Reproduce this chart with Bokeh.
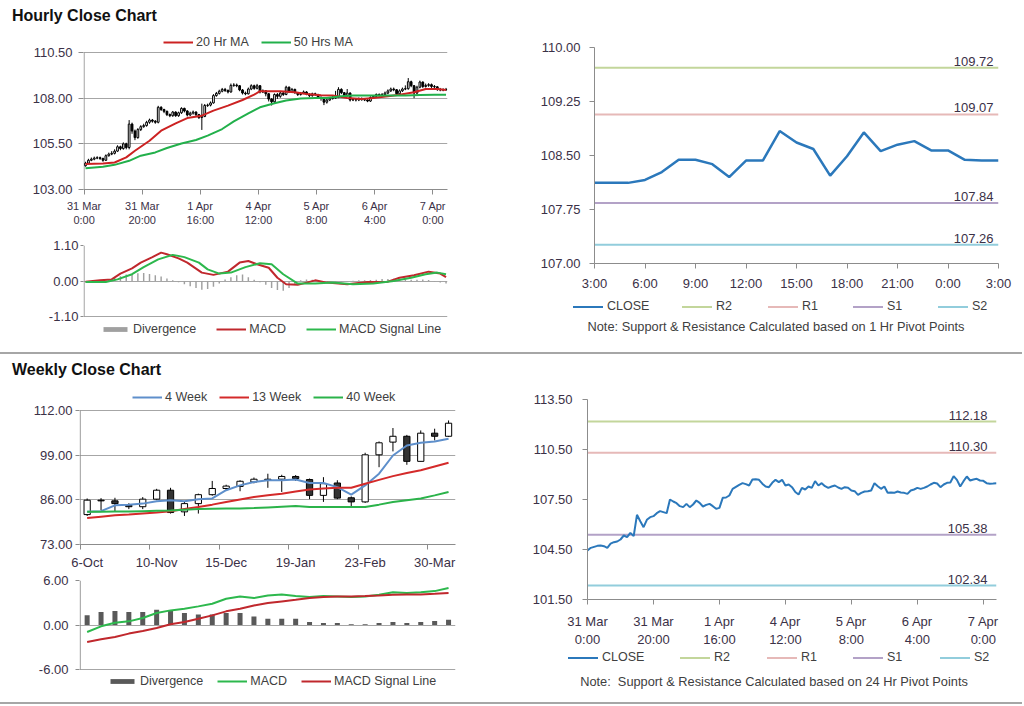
from bokeh.plotting import figure
from bokeh.models import (Range1d, FixedTicker, NumeralTickFormatter, Legend, LegendItem,
                          Div, ColumnDataSource)
from bokeh.layouts import column, row
from bokeh.embed import file_html
from bokeh.resources import INLINE
from bokeh.core.properties import value

FONT = "Liberation Sans"
TICK_TXT = "#3b3147"
LEG_TXT = "#404040"
AX = "#8c8c8c"
CLOSE_COLOR = "#2b78bb"

# ------------------------------------------------------------------ data
hourly_first_open = 104.30
hourly_close = [
    104.44, 104.60, 104.66, 104.72, 104.74, 104.70, 104.60, 104.85, 104.94, 104.98,
    105.10, 105.34, 105.24, 105.50, 105.30, 106.58, 106.20, 105.84, 106.28, 106.44,
    106.50, 106.68, 106.80, 106.74, 106.68, 107.50, 107.38, 107.28, 107.10, 107.04,
    107.24, 107.04, 107.20, 107.44, 107.30, 107.08, 107.18, 107.24, 107.10, 106.94,
    107.00, 107.60, 107.62, 107.74, 108.14, 108.26, 108.38, 108.48, 108.42, 108.34,
    108.70, 108.72, 108.68, 108.45, 108.28, 108.24, 108.50, 108.68, 108.54, 108.68,
    108.34, 108.40, 108.24, 107.95, 107.80, 108.20, 108.10, 108.28, 108.20, 108.60,
    108.34, 108.48, 108.30, 108.20, 108.28, 108.34, 108.22, 108.14, 108.24, 108.20,
    108.04, 108.00, 107.78, 107.90, 107.98, 108.00, 108.04, 108.48, 108.30, 108.14,
    108.28, 107.90, 107.92, 107.90, 107.98, 107.92, 107.90, 107.84, 108.04, 108.10,
    108.20, 108.14, 108.20, 108.28, 108.40, 108.50, 108.46, 108.24, 108.40, 108.50,
    108.52, 108.90, 108.68, 108.28, 108.60, 108.88, 108.64, 108.70, 108.74, 108.64,
    108.62, 108.48, 108.45, 108.46, 108.48]
hourly_high = [
    104.52, 104.68, 104.75, 104.80, 104.82, 104.80, 104.74, 104.92, 105.02, 105.10,
    105.20, 105.42, 105.40, 105.58, 105.56, 106.80, 106.66, 106.28, 106.36, 106.52,
    106.60, 106.76, 106.88, 106.86, 106.80, 107.58, 107.56, 107.42, 107.32, 107.16,
    107.30, 107.28, 107.26, 107.50, 107.48, 107.34, 107.26, 107.32, 107.28, 107.14,
    107.70, 107.68, 107.70, 107.82, 108.22, 108.34, 108.46, 108.56, 108.56, 108.48,
    108.80, 108.82, 108.80, 108.72, 108.50, 108.36, 108.58, 108.76, 108.74, 108.78,
    108.72, 108.48, 108.44, 108.28, 108.00, 108.26, 108.28, 108.36, 108.34, 108.68,
    108.64, 108.56, 108.52, 108.34, 108.34, 108.42, 108.38, 108.26, 108.30, 108.30,
    108.24, 108.10, 108.04, 107.98, 108.06, 108.12, 108.40, 108.60, 108.54, 108.34,
    108.50, 108.32, 108.00, 107.98, 108.04, 108.04, 107.98, 107.94, 108.10, 108.16,
    108.26, 108.26, 108.28, 108.36, 108.48, 108.58, 108.58, 108.50, 108.48, 108.58,
    108.70, 109.10, 108.96, 108.72, 108.68, 108.96, 108.92, 108.80, 108.82, 108.80,
    108.72, 108.66, 108.56, 108.54, 108.56]
hourly_low = [
    104.25, 104.40, 104.55, 104.60, 104.66, 104.62, 104.52, 104.56, 104.80, 104.88,
    104.92, 105.05, 105.15, 105.18, 105.20, 105.20, 106.05, 105.70, 105.78, 106.20,
    106.38, 106.44, 106.60, 106.66, 106.60, 106.62, 107.30, 107.18, 107.02, 106.96,
    106.98, 106.98, 106.98, 107.14, 107.22, 107.00, 107.02, 107.10, 107.02, 106.86,
    106.26, 106.96, 107.52, 107.55, 107.70, 108.08, 108.20, 108.32, 108.34, 108.26,
    108.30, 108.62, 108.60, 108.38, 108.20, 108.16, 108.20, 108.44, 108.46, 108.48,
    108.26, 108.28, 108.10, 107.82, 107.60, 107.74, 107.96, 108.02, 108.12, 108.16,
    108.28, 108.28, 108.24, 108.12, 108.14, 108.22, 108.16, 108.06, 108.08, 108.12,
    107.96, 107.86, 107.62, 107.70, 107.84, 107.92, 107.96, 108.00, 108.22, 108.06,
    108.08, 107.82, 107.84, 107.82, 107.84, 107.86, 107.84, 107.78, 107.80, 107.98,
    108.04, 108.08, 108.08, 108.14, 108.22, 108.34, 108.38, 108.16, 108.18, 108.34,
    108.44, 108.46, 108.60, 108.00, 108.22, 108.54, 108.56, 108.58, 108.62, 108.56,
    108.54, 108.40, 108.38, 108.38, 108.40]
hourly_ticks = [0, 20, 40, 60, 80, 100, 120]
hourly_tick_labels = ["31 Mar\n0:00", "31 Mar\n20:00", "1 Apr\n16:00", "4 Apr\n12:00",
                      "5 Apr\n8:00", "6 Apr\n4:00", "7 Apr\n0:00"]

ma20_hours = [0, 6, 10, 14, 17, 22, 26, 31, 35, 40, 44, 49, 54, 58, 60, 63, 67, 72, 76,
              81, 85, 90, 95, 99, 104, 108, 113, 117, 121, 124]
ma20_vals = [104.39, 104.43, 104.48, 104.76, 105.12, 105.67, 106.22, 106.62, 106.91, 107.04,
             107.32, 107.59, 107.90, 108.19, 108.38, 108.38, 108.38, 108.32, 108.23, 108.16,
             108.14, 108.01, 107.96, 108.01, 108.10, 108.19, 108.32, 108.50, 108.50, 108.45]
ma50_hours = [0, 6, 10, 15, 19, 24, 28, 33, 38, 42, 47, 51, 56, 60, 65, 69, 74, 79, 83, 88,
              92, 97, 101, 106, 110, 115, 120, 124]
ma50_vals = [104.17, 104.24, 104.35, 104.57, 104.85, 105.03, 105.27, 105.52, 105.71, 105.95,
             106.31, 106.73, 107.17, 107.50, 107.72, 107.87, 107.98, 108.01, 108.01, 108.10,
             108.14, 108.14, 108.14, 108.14, 108.14, 108.18, 108.19, 108.19]

macd_hours = [0, 5, 9, 12, 16, 19, 23, 26, 28, 32, 35, 40, 44, 49, 53, 56, 59, 63, 66, 69,
              73, 79, 83, 90, 97, 104, 108, 113, 118, 122, 124]
macd_vals = [-0.02, 0.02, 0.05, 0.23, 0.39, 0.57, 0.74, 0.88, 0.83, 0.70, 0.57, 0.26, 0.19,
             0.29, 0.57, 0.62, 0.52, 0.41, 0.10, -0.10, -0.12, 0.02, -0.05, -0.10, -0.03,
             -0.02, 0.10, 0.18, 0.29, 0.23, 0.12]
signal_hours = [0, 7, 11, 16, 20, 25, 30, 34, 39, 42, 46, 50, 55, 60, 64, 68, 73, 79, 85,
                92, 99, 106, 112, 117, 121, 124]
signal_vals = [-0.03, -0.03, 0.05, 0.21, 0.43, 0.67, 0.81, 0.74, 0.57, 0.36, 0.23, 0.26,
               0.43, 0.55, 0.52, 0.21, -0.08, -0.08, -0.05, -0.10, -0.08, 0.00, 0.10, 0.21,
               0.26, 0.21]
div_hours = list(range(0, 125, 2))
div_vals = [0.00, 0.00, 0.01, 0.03, 0.06, 0.10, 0.15, 0.20, 0.22, 0.24,
            0.25, 0.22, 0.18, 0.14, 0.08, 0.02, -0.04, -0.10, -0.16, -0.22,
            -0.27, -0.25, -0.18, -0.08, 0.05, 0.12, 0.18, 0.20, 0.12, 0.04,
            -0.04, -0.12, -0.22, -0.28, -0.30, -0.22, -0.10, 0.02, 0.05, 0.04,
            0.02, 0.00, -0.02, -0.03, -0.02, -0.01, 0.01, 0.02, 0.02, 0.03,
            0.04, 0.06, 0.06, 0.07, 0.06, 0.05, 0.04, 0.04, 0.05, 0.03,
            -0.02, -0.05, -0.08]

pivot1_labels = ["3:00", "6:00", "9:00", "12:00", "15:00", "18:00", "21:00", "0:00", "3:00"]
pivot1_close = [108.12, 108.12, 108.12, 108.16, 108.27, 108.44, 108.44, 108.38, 108.20,
                108.43, 108.43, 108.84, 108.68, 108.59, 108.22, 108.49, 108.82, 108.56,
                108.65, 108.70, 108.57, 108.57, 108.44, 108.43, 108.43]
pivot1_levels = {"R2": 109.72, "R1": 109.07, "S1": 107.84, "S2": 107.26}
pivot24_levels = {"R2": 112.18, "R1": 110.30, "S1": 105.38, "S2": 102.34}
level_colors = {"R2": "#c3d69b", "R1": "#e6b9b8", "S1": "#b3a2c7", "S2": "#92cddc"}
LEVELS = ("R2", "R1", "S1", "S2")

week_labels = ["6-Oct", "10-Nov", "15-Dec", "19-Jan", "23-Feb", "30-Mar"]
week_label_idx = [0, 5, 10, 15, 20, 25]
weekly_open = [81.7, 85.9, 85.7, 84.4, 84.0, 86.2, 88.8, 82.5, 84.9, 87.5, 89.3, 89.9, 91.2,
               92.0, 92.0, 92.8, 91.9, 87.3, 90.9, 86.6, 85.4, 99.1, 102.8, 104.5, 97.2,
               105.4, 104.5]
weekly_close = [85.9, 85.7, 84.9, 84.0, 86.2, 88.8, 82.3, 84.9, 87.5, 89.3, 90.0, 91.4, 92.0,
                91.7, 92.8, 92.2, 87.3, 90.7, 86.5, 85.4, 99.1, 102.6, 104.5, 97.2, 105.4,
                104.5, 108.3]
weekly_high = [86.4, 86.5, 86.6, 85.0, 86.8, 89.2, 89.5, 85.4, 87.8, 91.5, 90.4, 91.7, 92.5,
               93.6, 93.3, 93.2, 92.2, 92.6, 91.7, 87.0, 99.7, 103.0, 106.9, 104.9, 106.2,
               106.7, 109.1]
weekly_low = [81.3, 83.0, 82.5, 83.3, 83.3, 85.9, 82.0, 81.3, 82.0, 87.2, 88.8, 88.5, 90.8,
              89.5, 88.3, 91.5, 86.2, 85.4, 86.2, 84.2, 85.1, 95.5, 100.1, 96.2, 97.2,
              103.3, 104.3]
ma4w = [82.5, 82.7, 84.4, 84.6, 84.9, 85.6, 85.9, 85.6, 86.2, 86.4, 88.8, 90.2, 91.2, 91.7,
        91.7, 91.9, 90.9, 90.9, 89.7, 87.5, 90.2, 93.6, 98.9, 101.8, 102.6, 103.0, 103.8]
ma13w = [80.7, 81.1, 81.5, 81.7, 82.0, 82.3, 82.7, 83.3, 83.9, 84.6, 85.4, 86.1, 86.8, 87.3,
         87.8, 88.4, 89.0, 89.3, 89.5, 89.5, 90.7, 91.8, 92.9, 93.8, 94.6, 95.7, 96.8]
ma40w = [82.5, 82.5, 82.6, 82.6, 82.7, 82.8, 82.9, 83.1, 83.3, 83.4, 83.5, 83.5, 83.6, 83.8,
         84.0, 84.2, 83.9, 83.9, 83.9, 83.9, 83.9, 84.6, 85.4, 85.9, 86.4, 87.3, 88.3]
w_macd = [-0.94, -0.18, 0.31, 0.49, 0.94, 1.61, 1.97, 2.19, 2.51, 2.87, 3.54, 3.85, 3.63,
          3.98, 4.12, 3.90, 3.76, 3.90, 3.85, 3.76, 3.85, 4.07, 4.43, 4.30, 4.43, 4.57, 5.00]
w_signal = [-2.28, -1.93, -1.61, -1.16, -0.81, -0.40, 0.09, 0.40, 0.85, 1.30, 1.84, 2.19,
            2.64, 2.96, 3.18, 3.40, 3.63, 3.76, 3.85, 3.85, 3.90, 3.98, 4.07, 4.12, 4.12,
            4.20, 4.30]
w_div = [1.30, 1.75, 1.88, 1.75, 1.75, 2.06, 1.97, 1.61, 1.43, 1.43, 1.61, 1.61, 1.16, 0.85,
         0.85, 0.85, 0.40, 0.27, 0.27, 0.09, 0.09, 0.27, 0.40, 0.27, 0.40, 0.54, 0.72]

assert len(hourly_close) == len(hourly_high) == len(hourly_low) == 125
assert len(div_vals) == len(div_hours)


# ------------------------------------------------------------------ helpers
def mkfig(fw, fh, bl, br, bt, bb, xr, yr, yticks, grid=True, xaxis=True, own_yline=False):
    p = figure(width=bl + fw + br, height=bt + fh + bb, min_border_left=bl,
               min_border_right=br, min_border_top=bt, min_border_bottom=bb,
               x_range=Range1d(*xr), y_range=Range1d(*yr), output_backend="svg",
               toolbar_location=None, title=None, sizing_mode="fixed",
               x_axis_location=("below" if xaxis else None))
    p.outline_line_color = None
    for ax in p.axis:
        ax.axis_line_color = AX
        ax.major_tick_line_color = AX
        ax.minor_tick_line_color = None
        ax.major_tick_in = 0
        ax.major_tick_out = 5
        ax.major_label_text_font = FONT
        ax.major_label_text_font_size = "13px"
        ax.major_label_text_color = TICK_TXT
    p.yaxis.ticker = FixedTicker(ticks=yticks)
    p.yaxis.formatter = NumeralTickFormatter(format="0.00")
    p.xgrid.visible = False
    if grid:
        p.ygrid.grid_line_color = "#a6a6a6"
    else:
        p.ygrid.visible = False
    if own_yline:
        # the frame is taller than the value scale (room for the legend), so the
        # vertical axis line is drawn only over the scale itself
        p.yaxis.axis_line_color = None
        p.segment(x0=[0], y0=[yticks[0]], x1=[0], y1=[yticks[-1]], line_color=AX,
                  line_width=1)
    return p


def make_legend(pairs, x, y, spacing, label_width=20, glyph_height=14):
    items = [LegendItem(label=l, renderers=[r]) for l, r in pairs]
    return Legend(items=items, location=(x, y), orientation="horizontal",
                  background_fill_alpha=0, border_line_alpha=0, padding=0, margin=0,
                  spacing=spacing, glyph_width=30, glyph_height=glyph_height,
                  label_standoff=3, label_width=label_width, label_height=14,
                  label_text_font=FONT, label_text_font_size="12.5px",
                  label_text_color=LEG_TXT)


def candles(p, xs, o, h, l, c, width, up_fill, down_fill):
    p.segment(x0=xs, y0=l, x1=xs, y1=h, line_color="black", line_width=1)
    up = [i for i in range(len(c)) if c[i] >= o[i]]
    dn = [i for i in range(len(c)) if c[i] < o[i]]
    for idx, fill in ((up, up_fill), (dn, down_fill)):
        src = ColumnDataSource(dict(x=[xs[i] for i in idx],
                                    top=[max(o[i], c[i]) for i in idx],
                                    bottom=[min(o[i], c[i]) for i in idx]))
        p.vbar(x="x", top="top", bottom="bottom", width=width, source=src,
               fill_color=fill, line_color="black", line_width=1)


def title_div(text, pad_top, w, h):
    return Div(width=w, height=h, margin=0, text=(
        f"<div style='font-family:{FONT};font-size:16px;font-weight:bold;line-height:16px;"
        f"color:#111111;padding:{pad_top}px 0 0 12px;white-space:nowrap'>{text}</div>"))


def note_div(text, pad_top, pad_left, w, h):
    return Div(width=w, height=h, margin=0, text=(
        f"<div style='display:block;box-sizing:border-box;width:{w}px;font-family:{FONT};"
        f"font-size:12.8px;line-height:16px;color:#404040;text-align:center;"
        f"padding:{pad_top}px 0 0 {pad_left}px;white-space:nowrap'>{text}</div>"))


def legend_div(w, h, top, entries):
    # entries: (left px, label, colour, line width)
    parts = []
    for left, label, color, lw in entries:
        parts.append(
            f"<div style='position:absolute;left:{left}px;top:{top}px;height:14px;"
            f"display:flex;align-items:center;white-space:nowrap;font-family:{FONT};"
            f"font-size:12.5px;color:{LEG_TXT}'>"
            f"<span style='display:inline-block;width:30px;height:0;"
            f"border-top:{lw}px solid {color};margin-right:4px'></span>{label}</div>")
    return Div(width=w, height=h, margin=0, text=(
        f"<div style='position:relative;width:{w}px;height:{h}px'>" + "".join(parts) + "</div>"))


def pivot_chart(fw, fh, bl, br, bt, bb, xr, yr, yticks, xs, close, levels, lw, xticks,
                xlabels, standoff_x, standoff_y, label_dx):
    p = mkfig(fw, fh, bl, br, bt, bb, xr, yr, yticks, grid=False)
    p.yaxis.major_label_standoff = standoff_y
    p.xaxis.ticker = FixedTicker(ticks=xticks)
    p.xaxis.major_label_overrides = dict(zip(xticks, xlabels))
    p.xaxis.major_label_standoff = standoff_x
    for k in LEVELS:
        p.line(x=[xr[0], xr[1]], y=[levels[k], levels[k]], line_color=level_colors[k],
               line_width=2)
    p.line(x=xs, y=close, line_color=CLOSE_COLOR, line_width=lw)
    p.text(x=[xr[1]] * 4, y=[levels[k] for k in LEVELS],
           text=[f"{levels[k]:.2f}" for k in LEVELS],
           text_align="right", text_baseline="bottom", x_offset=label_dx, y_offset=-2,
           text_font=value(FONT), text_font_size="13px", text_color=TICK_TXT)
    return p


# ------------------------------------------------------------------ hourly candles
# frame 30..189 px; value scale 103..110.5 occupies 52..189 px
hx = [i + 0.5 for i in range(len(hourly_close))]
hourly_open = [hourly_first_open] + hourly_close[:-1]
p_hc = mkfig(364, 159, 83, 65, 4, 46, (-0.2, 125), (103, 110.5 + 22 * 7.5 / 137),
             [103, 105.5, 108, 110.5], own_yline=True)
p_hc.yaxis.major_label_standoff = 6
p_hc.xaxis.ticker = FixedTicker(ticks=hourly_ticks)
p_hc.xaxis.major_label_overrides = dict(zip(hourly_ticks, hourly_tick_labels))
p_hc.xaxis.major_label_text_font_size = "11px"
p_hc.xaxis.major_label_standoff = 5
candles(p_hc, hx, hourly_open, hourly_high, hourly_low, hourly_close, 0.6, "white", "black")
r20 = p_hc.line(x=[h + 0.5 for h in ma20_hours], y=ma20_vals, line_color="#cc2222", line_width=2)
r50 = p_hc.line(x=[h + 0.5 for h in ma50_hours], y=ma50_vals, line_color="#22b04b", line_width=2)
p_hc.add_layout(make_legend([("20 Hr MA", r20), ("50 Hrs MA", r50)], 80, 140, 12))

# ------------------------------------------------------------------ hourly MACD
# frame 245..346 px; value scale -1.1..1.1 occupies 245..316 px
p_hm = mkfig(364, 101, 83, 65, 10, 6, (-0.2, 125), (-1.1 - 30 * 2.2 / 71, 1.1),
             [-1.1, 0, 1.1], xaxis=False, own_yline=True)
p_hm.yaxis.major_tick_out = 3
p_hm.yaxis.major_label_standoff = 2
rdiv = p_hm.vbar(x=[h + 0.5 for h in div_hours], top=div_vals, bottom=0, width=0.5,
                 fill_color="#a0a0a0", line_color=None)
rm = p_hm.line(x=[h + 0.5 for h in macd_hours], y=macd_vals, line_color="#c0282d", line_width=2)
rs = p_hm.line(x=[h + 0.5 for h in signal_hours], y=signal_vals, line_color="#2db84d", line_width=2)
p_hm.add_layout(make_legend([("Divergence", rdiv), ("MACD", rm), ("MACD Signal Line", rs)],
                            17, 10, 20, glyph_height=6))

# ------------------------------------------------------------------ 1 hr pivot
p_p1 = pivot_chart(404, 217, 82, 24, 47, 29, (0, 24), (107, 110),
                   [107, 107.75, 108.5, 109.25, 110], list(range(25)), pivot1_close,
                   pivot1_levels, 2.5, [0, 3, 6, 9, 12, 15, 18, 21, 24], pivot1_labels,
                   7, 9, -5)
l_p1 = legend_div(510, 26, 7, [(61, "CLOSE", CLOSE_COLOR, 2)] +
                  [(x, k, level_colors[k], 2) for x, k in zip([170, 256, 341, 426], LEVELS)])

# ------------------------------------------------------------------ weekly candles
# frame 388..544 px; value scale 73..112 occupies 410..544 px
wx = [i + 0.5 for i in range(len(weekly_close))]
p_wc = mkfig(376, 156, 79, 57, 4, 28, (-0.05, 27), (73, 112 + 22 * 39 / 134),
             [73, 86, 99, 112], own_yline=True)
p_wc.yaxis.major_tick_out = 4
p_wc.yaxis.major_label_standoff = 3
lab_pos = [i + 0.5 for i in week_label_idx]
p_wc.xaxis.ticker = FixedTicker(ticks=lab_pos, minor_ticks=week_label_idx)
p_wc.xaxis.major_label_overrides = dict(zip(lab_pos, week_labels))
p_wc.xaxis.major_tick_line_color = None
p_wc.xaxis.major_tick_out = 0
p_wc.xaxis.minor_tick_line_color = AX
p_wc.xaxis.minor_tick_out = 5
p_wc.xaxis.minor_tick_in = 0
p_wc.xaxis.major_label_standoff = 5
candles(p_wc, wx, weekly_open, weekly_high, weekly_low, weekly_close, 0.45, "white", "#333333")
r4 = p_wc.line(x=wx, y=ma4w, line_color="#5e8fcb", line_width=2)
r13 = p_wc.line(x=wx, y=ma13w, line_color="#d42a2a", line_width=2)
r40 = p_wc.line(x=wx, y=ma40w, line_color="#2bb34a", line_width=2)
p_wc.add_layout(make_legend([("4 Week", r4), ("13 Week", r13), ("40 Week", r40)], 53, 140, 12))

# ------------------------------------------------------------------ weekly MACD
# frame 580..690 px; value scale -6..6 occupies 580..669 px
p_wm = mkfig(376, 110, 79, 57, 8, 4, (-0.05, 27), (-6 - 21 * 12 / 89, 6), [-6, 0, 6],
             xaxis=False, own_yline=True)
p_wm.yaxis.major_tick_out = 4
p_wm.yaxis.major_label_standoff = 7
rwd = p_wm.vbar(x=wx, top=w_div, bottom=0, width=0.36, fill_color="#595959", line_color=None)
rwm = p_wm.line(x=wx, y=w_macd, line_color="#2db84d", line_width=2)
rws = p_wm.line(x=wx, y=w_signal, line_color="#c0282d", line_width=2)
p_wm.add_layout(make_legend([("Divergence", rwd), ("MACD", rwm), ("MACD Signal Line", rws)],
                            28, 2, 14, glyph_height=6))

# ------------------------------------------------------------------ 24 hr pivot
p_p24 = pivot_chart(409, 200, 75, 26, 45, 50, (0, 124), (101.5, 113.5),
                    [101.5, 104.5, 107.5, 110.5, 113.5], list(range(len(hourly_close))),
                    hourly_close, pivot24_levels, 2, hourly_ticks, hourly_tick_labels,
                    9, 10, -9)
l_p24 = legend_div(510, 20, 2, [(56, "CLOSE", CLOSE_COLOR, 2)] +
                   [(x, k, level_colors[k], 2) for x, k in zip([168, 255, 341, 428], LEVELS)])

# ------------------------------------------------------------------ layout
left1 = column(title_div("Hourly Close Chart", 8, 512, 26), p_hc, p_hm)
right1 = column(p_p1, l_p1,
                note_div("Note: Support &amp; Resistance Calculated based on 1 Hr Pivot Points",
                         0, 18, 510, 33))
left2 = column(title_div("Weekly Close Chart", 8, 512, 30), p_wc, p_wm)
right2 = column(p_p24, l_p24,
                note_div("Note:&nbsp; Support &amp; Resistance Calculated based on 24 Hr Pivot Points",
                         5, 14, 510, 25))
sep1 = Div(width=1022, height=2, margin=0, text="", styles={"background-color": "#a6a6a6"})
gap = Div(width=1022, height=8, margin=0, text="")
sep2 = Div(width=1022, height=2, margin=0, text="", styles={"background-color": "#a6a6a6"})
layout = column(row(left1, right1), sep1, row(left2, right2), gap, sep2)

open("out.html", "w").write(file_html(layout, INLINE))
